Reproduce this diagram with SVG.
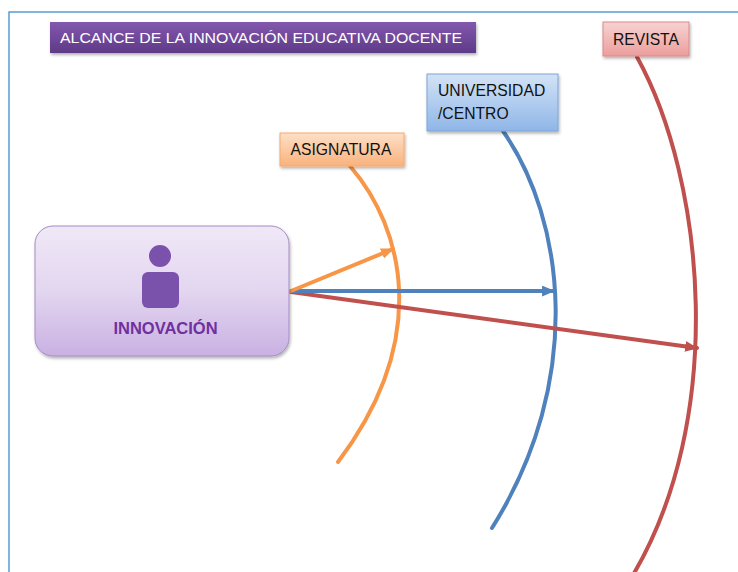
<svg xmlns="http://www.w3.org/2000/svg" width="738" height="572" viewBox="0 0 738 572">
<defs>
<style>
text{font-family:"Liberation Sans","DejaVu Sans",sans-serif;}
.lbl{font-size:15.7px;fill:#111;}
.conn{fill:none;stroke-width:4;stroke-linecap:round;}
</style>
<linearGradient id="gTitle" x1="0" y1="0" x2="0" y2="1"><stop offset="0" stop-color="#8258ad"/><stop offset="1" stop-color="#5f3a88"/></linearGradient>
<linearGradient id="gOr" x1="0" y1="0" x2="0" y2="1"><stop offset="0" stop-color="#fde0c8"/><stop offset="1" stop-color="#f9b27c"/></linearGradient>
<linearGradient id="gBl" x1="0" y1="0" x2="0" y2="1"><stop offset="0" stop-color="#d3e3f6"/><stop offset="1" stop-color="#8fb6e8"/></linearGradient>
<linearGradient id="gRd" x1="0" y1="0" x2="0" y2="1"><stop offset="0" stop-color="#f7d3d2"/><stop offset="1" stop-color="#eb9e9c"/></linearGradient>
<linearGradient id="gIn" x1="0" y1="0" x2="0" y2="1"><stop offset="0" stop-color="#f0e8f7"/><stop offset="0.5" stop-color="#e3d6f0"/><stop offset="1" stop-color="#c9b1e2"/></linearGradient>
<filter id="sh" x="-10%" y="-10%" width="130%" height="140%"><feDropShadow dx="1" dy="2" stdDeviation="1.5" flood-color="#000" flood-opacity="0.3"/></filter>
<marker id="aOr" viewBox="0 0 12 10" refX="11" refY="5" markerWidth="13" markerHeight="11" markerUnits="userSpaceOnUse" orient="auto"><path d="M0,0 L12,5 L0,10 Z" fill="#f79646"/></marker>
<marker id="aBl" viewBox="0 0 12 10" refX="11" refY="5" markerWidth="13" markerHeight="11" markerUnits="userSpaceOnUse" orient="auto"><path d="M0,0 L12,5 L0,10 Z" fill="#4f81bd"/></marker>
<marker id="aRd" viewBox="0 0 12 10" refX="11" refY="5" markerWidth="13" markerHeight="11" markerUnits="userSpaceOnUse" orient="auto"><path d="M0,0 L12,5 L0,10 Z" fill="#c0504d"/></marker>
</defs>
<rect width="738" height="572" fill="#fff"/>
<path d="M9,572 V12 H738" fill="none" stroke="#5b9bd5" stroke-width="1.5"/>

<g id="connectors">
<path class="conn" stroke="#f79646" d="M350,166 C405,230 430,340 338,462"/>
<path class="conn" stroke="#4f81bd" d="M503,131 C565,220 585,380 492,528"/>
<path class="conn" stroke="#c0504d" d="M637,57 C705,180 728,420 630,580"/>
<path class="conn" stroke="#c0504d" d="M291,292 L697,348" marker-end="url(#aRd)"/>
<path class="conn" stroke="#4f81bd" d="M291,291 L554,291" marker-end="url(#aBl)"/>
<path class="conn" stroke="#f79646" d="M291,291 L393,249" marker-end="url(#aOr)"/>
</g>

<g id="title">
<rect x="50" y="22" width="426" height="31" fill="url(#gTitle)" filter="url(#sh)"/>
<text x="261" y="43" font-size="15.5" fill="#fff" text-anchor="middle" textLength="402" lengthAdjust="spacingAndGlyphs">ALCANCE DE LA INNOVACIÓN EDUCATIVA DOCENTE</text>
</g>

<g id="innovacion">
<rect x="35" y="226" width="254" height="130" rx="18" fill="url(#gIn)" stroke="#a58bc4" stroke-width="1" filter="url(#sh)"/>
<circle cx="160" cy="256" r="11" fill="#7b52ab"/>
<rect x="142" y="272" width="37" height="36" rx="6" fill="#7b52ab"/>
<text x="165.5" y="334" font-size="16.5" font-weight="bold" fill="#7030a0" text-anchor="middle">INNOVACIÓN</text>
</g>

<g id="asignatura">
<rect x="280" y="133" width="124" height="33" fill="url(#gOr)" stroke="#f7a86a" stroke-width="1" filter="url(#sh)"/>
<text x="341" y="155" class="lbl" text-anchor="middle">ASIGNATURA</text>
</g>

<g id="universidad">
<rect x="427" y="74" width="131" height="57" fill="url(#gBl)" stroke="#7ea4d6" stroke-width="1" filter="url(#sh)"/>
<text x="438" y="96" class="lbl">UNIVERSIDAD</text>
<text x="438" y="119" class="lbl">/CENTRO</text>
</g>

<g id="revista">
<rect x="603" y="22" width="86" height="34" fill="url(#gRd)" stroke="#d88a88" stroke-width="1" filter="url(#sh)"/>
<text x="646" y="45" class="lbl" text-anchor="middle">REVISTA</text>
</g>
</svg>
